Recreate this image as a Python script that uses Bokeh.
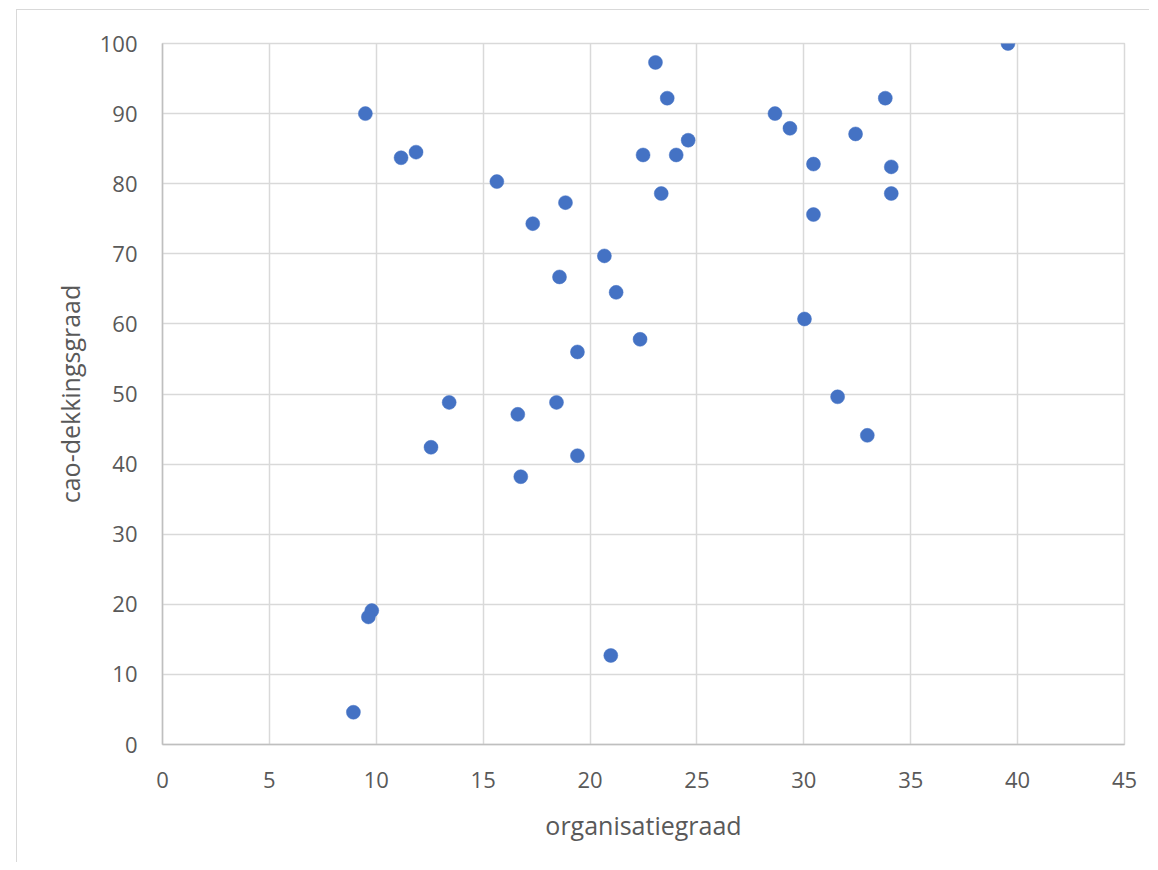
from bokeh.plotting import figure
from bokeh.models import Range1d, SingleIntervalTicker, ColumnDataSource
from bokeh.embed import file_html
from bokeh.resources import INLINE

# organisatiegraad (x) and cao-dekkingsgraad (y)
organisatiegraad = [9.49, 11.16, 11.86, 15.64, 18.85, 17.32, 18.57,
                    23.06, 23.61, 24.59, 22.48, 24.03, 23.33, 20.67,
                    28.65, 29.35, 33.81, 32.42, 30.45, 34.09, 34.09, 30.45,
                    39.55,
                    21.22, 22.34, 19.41, 13.41, 18.43, 16.62, 12.56, 19.41, 16.76,
                    30.03, 31.58, 32.97,
                    9.79, 9.63, 20.97, 8.93]
cao_dekkingsgraad = [90.0, 83.7, 84.5, 80.3, 77.3, 74.3, 66.7,
                     97.3, 92.2, 86.2, 84.1, 84.1, 78.6, 69.7,
                     90.0, 87.9, 92.2, 87.1, 82.8, 82.4, 78.6, 75.6,
                     100.0,
                     64.5, 57.8, 56.0, 48.8, 48.8, 47.1, 42.4, 41.2, 38.2,
                     60.7, 49.6, 44.1,
                     19.1, 18.2, 12.7, 4.6]

x_label = "organisatiegraad"
y_label = "cao-dekkingsgraad"

src = ColumnDataSource(dict(x=organisatiegraad, y=cao_dekkingsgraad))

p = figure(width=1133, height=853, output_backend="svg", toolbar_location=None,
           x_range=Range1d(0, 45), y_range=Range1d(0, 100),
           min_border_left=145, min_border_top=33, min_border_bottom=119,
           min_border_right=26)
p.margin = (9, 0, 0, 16)
p.styles = {"border-left": "1px solid #d9d9d9", "border-top": "1px solid #d9d9d9"}

p.scatter("x", "y", source=src, size=14, fill_color="#4472C4",
          line_color="#4472C4", line_width=0.5)

p.xaxis.ticker = SingleIntervalTicker(interval=5)
p.yaxis.ticker = SingleIntervalTicker(interval=10)
p.xaxis.axis_label = x_label
p.yaxis.axis_label = y_label

for ax in (p.xaxis[0], p.yaxis[0]):
    ax.major_tick_out = 0
    ax.major_tick_in = 0
    ax.minor_tick_out = 0
    ax.minor_tick_in = 0
    ax.axis_line_color = "#bfbfbf"
    ax.axis_line_width = 1.5
    ax.major_label_text_font = "Open Sans"
    ax.major_label_text_font_size = "22px"
    ax.major_label_text_color = "#595959"
    ax.axis_label_text_font = "Open Sans"
    ax.axis_label_text_font_size = "25px"
    ax.axis_label_text_font_style = "normal"
    ax.axis_label_text_color = "#595959"

p.xaxis.major_label_standoff = 27
p.xaxis.axis_label_standoff = 17
p.yaxis.major_label_standoff = 25
p.yaxis.axis_label_standoff = 10

p.xgrid.grid_line_color = "#d9d9d9"
p.ygrid.grid_line_color = "#d9d9d9"
p.xgrid.grid_line_width = 1.5
p.ygrid.grid_line_width = 1.5
p.outline_line_color = "#d9d9d9"
p.outline_line_width = 1.5
p.background_fill_color = "white"
p.border_fill_color = "white"

open("out.html", "w").write(file_html(p, INLINE))
